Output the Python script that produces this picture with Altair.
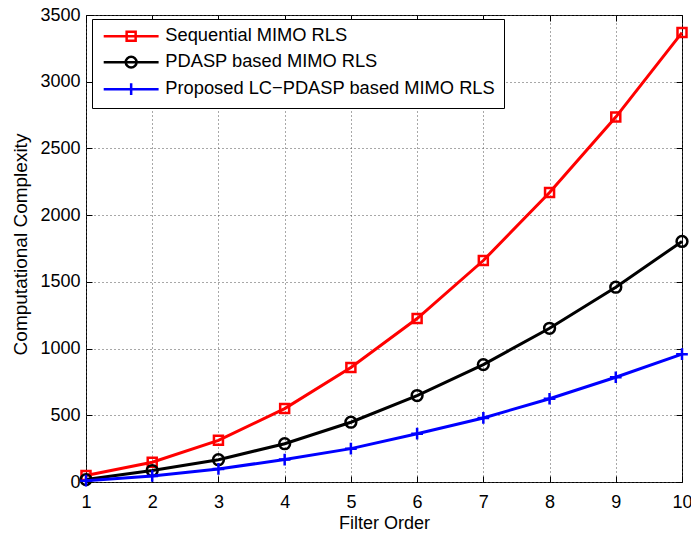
import altair as alt
import pandas as pd

# ---- data ----
orders = [1, 2, 3, 4, 5, 6, 7, 8, 9, 10]
sequential = [48, 148, 312, 550, 858, 1225, 1660, 2170, 2735, 3368]
pdasp = [18, 86, 167, 287, 448, 648, 880, 1152, 1460, 1803]
lc_pdasp = [10, 45, 98, 168, 250, 362, 480, 624, 785, 958]
series_names = [
    "Sequential MIMO RLS",
    "PDASP based MIMO RLS",
    "Proposed LC\u2212PDASP based MIMO RLS",
]
series_values = [sequential, pdasp, lc_pdasp]
colors = ["#ff0000", "#000000", "#0000ff"]
x_ticks = orders
y_ticks = [0, 500, 1000, 1500, 2000, 2500, 3000, 3500]

# marker shapes (unit box) and legend shapes (line + marker)
marker_paths = [
    "M-1,-1H1V1H-1Z",
    "M-1.2,0A1.2,1.2 0 1,1 1.2,0A1.2,1.2 0 1,1 -1.2,0Z",
    "M-1.3,0H1.3M0,-1.3V1.3",
]
legend_paths = ["M-6.1,0H6.1" + p for p in marker_paths]

rows = []
for name, vals in zip(series_names, series_values):
    for o, v in zip(orders, vals):
        rows.append({"order": o, "value": v, "series": name})
df = pd.DataFrame(rows)

FONT = "Liberation Sans"
W, H = 596, 467

x_scale = alt.Scale(domain=[1, 10], nice=False, zero=False)
y_scale = alt.Scale(domain=[0, 3500], nice=False, zero=False)

common_axis = dict(
    tickSize=6, offset=-6, domain=False, tickColor="black", tickWidth=1,
    labelFlush=False, labelOverlap=False,
)

bottom_axis = alt.Axis(
    orient="bottom", values=x_ticks, format="d",
    title="Filter Order", titleFont=FONT, titleFontSize=18, titleFontWeight="normal",
    titleColor="black", titleX=W / 2, titleY=52, titleBaseline="alphabetic", titleAlign="center",
    labelFont=FONT, labelFontSize=18, labelColor="black", labelBaseline="alphabetic",
    labelPadding=25.5,
    grid=True, gridDash=[1, 3], gridColor="#505050", gridWidth=1,
    **common_axis,
)
left_axis = alt.Axis(
    orient="left", values=y_ticks, format="d",
    title="Computational Complexity", titleFont=FONT, titleFontSize=19, titleFontWeight="normal",
    titleColor="black", titleAngle=270, titleX=-66, titleY=229, titleBaseline="alphabetic",
    titleAlign="center",
    labelFont=FONT, labelFontSize=18, labelColor="black", labelPadding=6,
    grid=True, gridDash=[1, 3], gridColor="#505050", gridWidth=1,
    **common_axis,
)
top_axis = alt.Axis(orient="top", values=x_ticks, labels=False, title=None, grid=False, **common_axis)
right_axis = alt.Axis(orient="right", values=y_ticks, labels=False, title=None, grid=False, **common_axis)

layers = []
for i, (name, col, mpath) in enumerate(zip(series_names, colors, marker_paths)):
    sub = df[df["series"] == name]
    line = alt.Chart(sub).mark_line(strokeWidth=3, color=col).encode(
        x=alt.X("order:Q", scale=x_scale, axis=bottom_axis if i == 0 else None),
        y=alt.Y("value:Q", scale=y_scale, axis=left_axis if i == 0 else None),
    )
    pts = alt.Chart(sub).mark_point(
        shape=mpath, filled=False, size=81, strokeWidth=2.5, color=col, opacity=1
    ).encode(
        x=alt.X("order:Q", scale=x_scale, axis=top_axis if i == 0 else None),
        y=alt.Y("value:Q", scale=y_scale, axis=right_axis if i == 0 else None),
    )
    layers += [line, pts]

legend = alt.Legend(
    title=None, orient="none", legendX=6, legendY=4, padding=8,
    strokeColor="black", fillColor="white", cornerRadius=0,
    labelFont=FONT, labelFontSize=18.3, labelColor="black", labelLimit=500,
    labelOffset=25, symbolOffset=22, symbolSize=81, symbolStrokeWidth=2.5,
    rowPadding=5,
)
legend_layer = alt.Chart(df).transform_filter("false").mark_point(
    filled=False, size=81, strokeWidth=2.5, opacity=1
).encode(
    color=alt.Color("series:N", scale=alt.Scale(domain=series_names, range=colors), legend=legend),
    shape=alt.Shape("series:N", scale=alt.Scale(domain=series_names, range=legend_paths), legend=legend),
)
layers.append(legend_layer)

chart = (
    alt.layer(*layers)
    .resolve_axis(x="independent", y="independent")
    .properties(
        width=W, height=H,
        autosize=alt.AutoSizeParams(type="none"),
        padding={"left": 86, "top": 15, "right": 9, "bottom": 52},
        background="white",
    )
    .configure_view(stroke="black", strokeWidth=1)
)

chart.save("out.html", embed_options={"renderer": "svg", "actions": False})
